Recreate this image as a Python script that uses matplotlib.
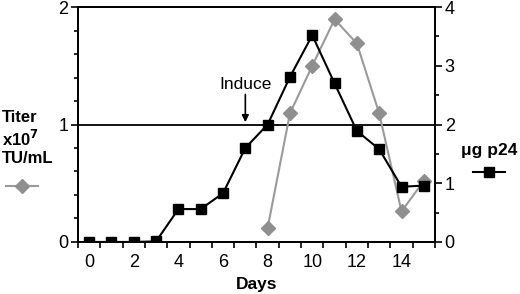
import matplotlib
matplotlib.use("Agg")
import matplotlib.pyplot as plt
from matplotlib.lines import Line2D
from matplotlib.ticker import MultipleLocator, FixedLocator

plt.rcParams['font.family'] = ['Liberation Sans', 'DejaVu Sans']

days_p24 = [0, 1, 2, 3, 4, 5, 6, 7, 8, 9, 10, 11, 12, 13, 14, 15]
p24 = [0, 0, 0, 0.01, 0.56, 0.56, 0.83, 1.6, 2.0, 2.81, 3.52, 2.70, 1.89, 1.58, 0.94, 0.96]
days_titer = [8, 9, 10, 11, 12, 13, 14, 15]
titer = [0.12, 1.095, 1.50, 1.895, 1.69, 1.095, 0.26, 0.52]
xtick_labels = [0, 2, 4, 6, 8, 10, 12, 14]

GRAY = '#8f8f8f'
LGRAY = '#9a9a9a'

fig = plt.figure(figsize=(5.2, 2.94), dpi=100)
ax = fig.add_axes([0.15, 0.177, 0.6865, 0.799])
ax2 = ax.twinx()

ax.plot(days_titer, titer, color=LGRAY, lw=1.5, marker='D', ms=7.5,
        mfc=GRAY, mec=GRAY, zorder=3)
ax2.plot(days_p24, p24, color='black', lw=1.5, marker='s', ms=7.5,
         mfc='black', mec='black', zorder=3)

ax.axhline(1.0, color='black', lw=1.3, zorder=2)

ax.set_xlim(-0.5, 15.5)
ax.set_ylim(0, 2)
ax2.set_ylim(0, 4)

ax.set_xticks([d + 0.5 for d in range(-1, 16)])
ax.set_xticklabels([])
ax.xaxis.set_minor_locator(FixedLocator(xtick_labels))
ax.set_xticklabels([str(v) for v in xtick_labels], minor=True)
ax.tick_params(axis='x', which='major', direction='out', length=4, width=1.2)
ax.tick_params(axis='x', which='minor', length=0, labelsize=13, pad=9)

ax.set_yticks([0, 1, 2])
ax.yaxis.set_minor_locator(MultipleLocator(0.2))
ax.tick_params(axis='y', which='major', direction='out', length=5, width=1.2, labelsize=13, pad=2)
ax.tick_params(axis='y', which='minor', direction='out', length=3, width=1.2)

ax2.set_yticks([0, 1, 2, 3, 4])
ax2.yaxis.set_minor_locator(MultipleLocator(0.5))
ax2.tick_params(axis='y', which='major', direction='out', length=5, width=1.2, labelsize=13, pad=2)
ax2.tick_params(axis='y', which='minor', direction='out', length=3, width=1.2)

for a in (ax, ax2):
    for s in a.spines.values():
        s.set_linewidth(1.3)

ax.set_xlabel('Days', fontsize=12.5, fontweight='bold', labelpad=4)

ax.annotate('Induce', xy=(7, 1.02), xytext=(7, 1.28), ha='center', va='bottom',
            fontsize=12.5,
            arrowprops=dict(arrowstyle='-|>', color='black', lw=1.2,
                            mutation_scale=10, shrinkA=0, shrinkB=0))

fig.text(0.004, 1 - 138/294, 'Titer\nx10$^{\\mathbf{7}}$\nTU/mL', ha='left', va='center',
         fontsize=12, fontweight='bold', linespacing=1.2)
fig.add_artist(Line2D([6/520, 38/520], [1 - 186/294] * 2, color=LGRAY, lw=1.5,
                      transform=fig.transFigure))
fig.add_artist(Line2D([22/520], [1 - 186/294], marker='D', ms=7.5, color=GRAY,
                      transform=fig.transFigure))

fig.text(461/520, 1 - 150/294, 'μg p24', ha='left', va='center',
         fontsize=12.5, fontweight='bold')
fig.add_artist(Line2D([473/520, 505/520], [1 - 172/294] * 2, color='black', lw=1.5,
                      transform=fig.transFigure))
fig.add_artist(Line2D([489/520], [1 - 172/294], marker='s', ms=7.5, color='black',
                      transform=fig.transFigure))

fig.savefig('out.png', dpi=100)
